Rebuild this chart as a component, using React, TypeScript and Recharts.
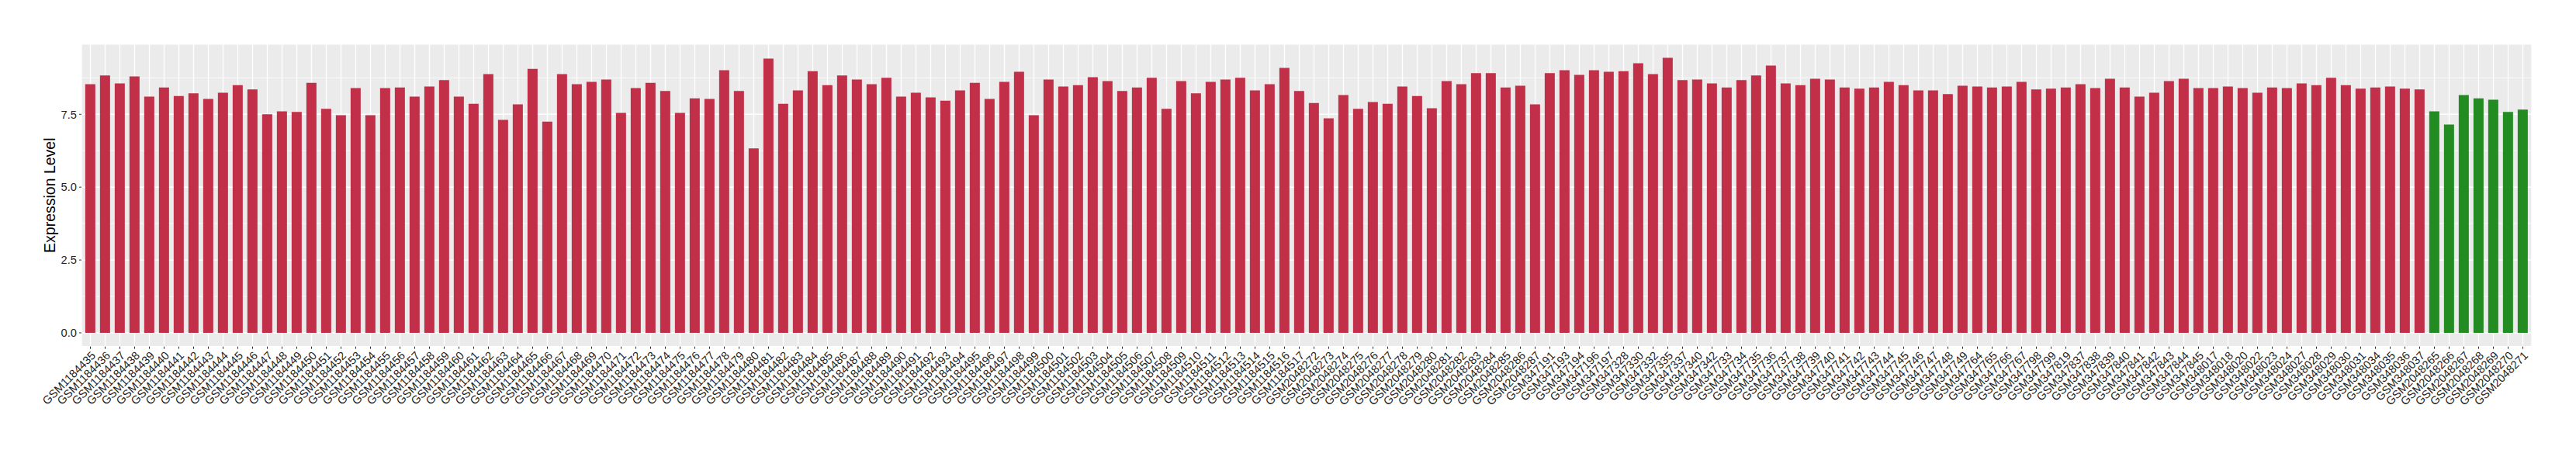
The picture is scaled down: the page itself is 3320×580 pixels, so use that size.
import { BarChart, Bar, XAxis, YAxis, CartesianGrid, Cell } from 'recharts';

/* ── Theme ── */
const C = { tumor: '#C13048', normal: '#228B22', panel: '#EBEBEB', grid: '#FFFFFF', text: '#1f1f1f', tick: '#333333' };
const FONT = '"Liberation Sans", Arial, Helvetica, sans-serif';

/* ── Data ── */
const tumorSamples = [
  'GSM1184435', 'GSM1184436', 'GSM1184437', 'GSM1184438', 'GSM1184439', 'GSM1184440', 'GSM1184441', 'GSM1184442', 'GSM1184443', 'GSM1184444',
  'GSM1184445', 'GSM1184446', 'GSM1184447', 'GSM1184448', 'GSM1184449', 'GSM1184450', 'GSM1184451', 'GSM1184452', 'GSM1184453', 'GSM1184454',
  'GSM1184455', 'GSM1184456', 'GSM1184457', 'GSM1184458', 'GSM1184459', 'GSM1184460', 'GSM1184461', 'GSM1184462', 'GSM1184463', 'GSM1184464',
  'GSM1184465', 'GSM1184466', 'GSM1184467', 'GSM1184468', 'GSM1184469', 'GSM1184470', 'GSM1184471', 'GSM1184472', 'GSM1184473', 'GSM1184474',
  'GSM1184475', 'GSM1184476', 'GSM1184477', 'GSM1184478', 'GSM1184479', 'GSM1184480', 'GSM1184481', 'GSM1184482', 'GSM1184483', 'GSM1184484',
  'GSM1184485', 'GSM1184486', 'GSM1184487', 'GSM1184488', 'GSM1184489', 'GSM1184490', 'GSM1184491', 'GSM1184492', 'GSM1184493', 'GSM1184494',
  'GSM1184495', 'GSM1184496', 'GSM1184497', 'GSM1184498', 'GSM1184499', 'GSM1184500', 'GSM1184501', 'GSM1184502', 'GSM1184503', 'GSM1184504',
  'GSM1184505', 'GSM1184506', 'GSM1184507', 'GSM1184508', 'GSM1184509', 'GSM1184510', 'GSM1184511', 'GSM1184512', 'GSM1184513', 'GSM1184514',
  'GSM1184515', 'GSM1184516', 'GSM1184517',
  'GSM2048272', 'GSM2048273', 'GSM2048274', 'GSM2048275', 'GSM2048276', 'GSM2048277', 'GSM2048278', 'GSM2048279', 'GSM2048280', 'GSM2048281',
  'GSM2048282', 'GSM2048283', 'GSM2048284', 'GSM2048285', 'GSM2048286', 'GSM2048287',
  'GSM347191', 'GSM347193', 'GSM347194', 'GSM347196', 'GSM347197', 'GSM347328', 'GSM347330', 'GSM347332', 'GSM347335', 'GSM347337',
  'GSM347340', 'GSM347342',
  'GSM347733', 'GSM347734', 'GSM347735', 'GSM347736', 'GSM347737', 'GSM347738', 'GSM347739', 'GSM347740', 'GSM347741', 'GSM347742',
  'GSM347743', 'GSM347744', 'GSM347745', 'GSM347746', 'GSM347747', 'GSM347748', 'GSM347749',
  'GSM347764', 'GSM347765', 'GSM347766', 'GSM347767', 'GSM347798', 'GSM347799', 'GSM347819', 'GSM347837', 'GSM347838', 'GSM347839',
  'GSM347840', 'GSM347841', 'GSM347842', 'GSM347843', 'GSM347844', 'GSM347845',
  'GSM348017', 'GSM348018', 'GSM348020', 'GSM348022', 'GSM348023', 'GSM348024', 'GSM348027', 'GSM348028', 'GSM348029', 'GSM348030',
  'GSM348031', 'GSM348034', 'GSM348035', 'GSM348036', 'GSM348037',
];

const tumorValues = [
  8.53, 8.83, 8.56, 8.80, 8.11, 8.42, 8.13, 8.22, 8.03, 8.24,
  8.50, 8.35, 7.50, 7.60, 7.58, 8.58, 7.69, 7.47, 8.40, 7.47,
  8.40, 8.42, 8.11, 8.45, 8.67, 8.11, 7.86, 8.88, 7.31, 7.84,
  9.06, 7.25, 8.88, 8.53, 8.61, 8.69, 7.55, 8.40, 8.58, 8.30,
  7.55, 8.05, 8.03, 9.01, 8.30, 6.33, 9.41, 7.86, 8.32, 8.98,
  8.50, 8.83, 8.69, 8.53, 8.75, 8.11, 8.24, 8.08, 7.97, 8.32,
  8.58, 8.03, 8.61, 8.96, 7.47, 8.69, 8.45, 8.50, 8.77, 8.64,
  8.30, 8.42, 8.75, 7.69, 8.64, 8.22, 8.61, 8.69, 8.75, 8.32,
  8.53, 9.09, 8.30,
  7.89, 7.36, 8.16, 7.69, 7.92, 7.86, 8.45, 8.13, 7.71, 8.64,
  8.53, 8.91, 8.91, 8.42, 8.48, 7.84,
  8.91, 9.01, 8.85, 9.01, 8.96, 8.98, 9.25, 8.88, 9.44, 8.67,
  8.69, 8.56,
  8.42, 8.67, 8.83, 9.17, 8.56, 8.50, 8.72, 8.69, 8.42, 8.38,
  8.42, 8.61, 8.50, 8.32, 8.32, 8.19, 8.48,
  8.45, 8.42, 8.45, 8.61, 8.35, 8.38, 8.42, 8.53, 8.40, 8.72,
  8.42, 8.11, 8.24, 8.64, 8.72, 8.40,
  8.40, 8.45, 8.40, 8.24, 8.42, 8.40, 8.56, 8.50, 8.75, 8.50,
  8.38, 8.42, 8.45, 8.38, 8.35,
];

const normalSamples = ['GSM2048265', 'GSM2048266', 'GSM2048267', 'GSM2048268', 'GSM2048269', 'GSM2048270', 'GSM2048271'];
const normalValues = [7.60, 7.15, 8.16, 8.05, 8.00, 7.58, 7.66];

const yTicks = [0, 2.5, 5, 7.5];
const yMinor = [1.25, 3.75, 6.25, 8.75];
const yDomain = [-0.472, 9.912];

const rows = [
  ...tumorSamples.map((sample, i) => ({ sample, value: tumorValues[i], group: 'tumor' })),
  ...normalSamples.map((sample, i) => ({ sample, value: normalValues[i], group: 'normal' })),
];

/* ── Rotated x tick, ggplot angle=45 hjust=1 vjust=1 ── */
const SampleTick = ({ x, y, payload }: any) => (
  <g transform={`translate(${x},${y})`}>
    <text transform="rotate(-45)" textAnchor="end" dy="0.72em" fontSize={14.7} fontFamily={FONT} fill={C.text}>
      {payload.value}
    </text>
  </g>
);

export default function App() {
  return (
    <div style={{ position: 'absolute', left: 0, top: 0, width: 3320, height: 580, background: '#fff' }}>
      <BarChart width={3320} height={580} data={rows} margin={{ top: 56.7, right: 57, bottom: 0, left: 0 }} barCategoryGap="15%">
        <CartesianGrid fill={C.panel} fillOpacity={1} stroke={C.grid} strokeWidth={1.4} />
        <CartesianGrid horizontalValues={yMinor} vertical={false} stroke={C.grid} strokeWidth={0.7} />
        <XAxis
          dataKey="sample"
          interval={0}
          height={133.3}
          padding={{ left: 2, right: 2 }}
          axisLine={false}
          tickSize={3}
          tickMargin={2}
          tickLine={{ stroke: C.tick, strokeWidth: 1 }}
          tick={<SampleTick />}
        />
        <YAxis
          type="number"
          domain={yDomain}
          ticks={yTicks}
          allowDataOverflow
          width={105}
          axisLine={false}
          tickSize={3}
          tickMargin={3}
          tickLine={{ stroke: C.tick, strokeWidth: 1 }}
          tickFormatter={(v: number) => v.toFixed(1)}
          tick={{ fill: C.text, fontSize: 14.7, fontFamily: FONT }}
          label={{ value: 'Expression Level', angle: -90, position: 'insideLeft', offset: 64, style: { textAnchor: 'middle', fontSize: 19.5, fontFamily: FONT, fill: '#000' } }}
        />
        <Bar dataKey="value" isAnimationActive={false}>
          {rows.map((r, i) => (
            <Cell key={i} fill={r.group === 'normal' ? C.normal : C.tumor} />
          ))}
        </Bar>
      </BarChart>
    </div>
  );
}
